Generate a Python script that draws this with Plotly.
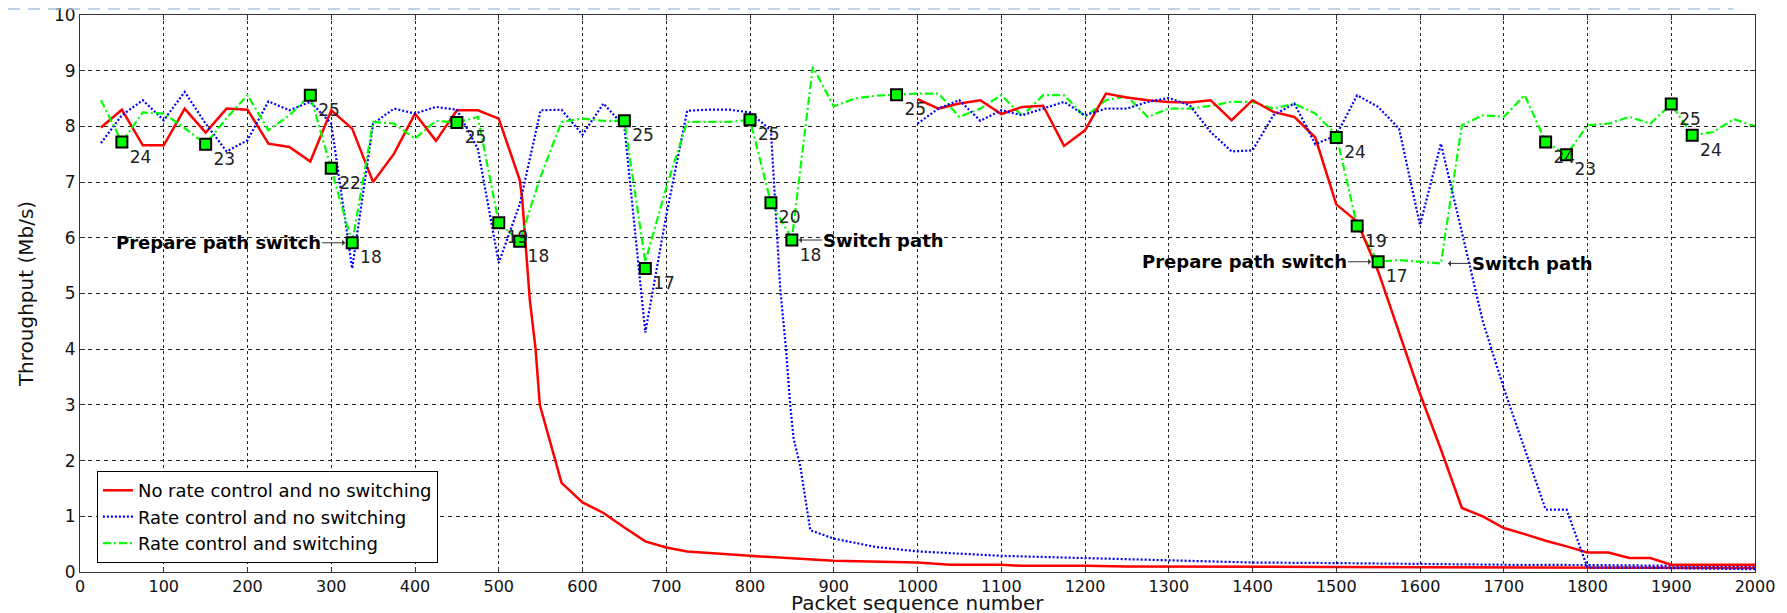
import plotly.graph_objects as go

# ---------------- data ----------------
# No rate control and no switching (first flow and second flow)
red1_x = [25, 50, 75, 100, 125, 150, 175, 200, 225, 250, 275, 300, 325, 350, 375, 400, 425, 450, 475, 500,
          525, 528, 537, 544, 549, 575, 600, 625, 650, 675, 700, 725, 800, 900, 1000, 1039, 1100, 1125, 1200,
          1250, 1500, 1800, 2000]
red1_y = [7.98, 8.3, 7.66, 7.66, 8.32, 7.89, 8.32, 8.3, 7.69, 7.63, 7.37, 8.29, 7.96, 7.0, 7.51, 8.23, 7.74, 8.29, 8.29, 8.14,
          7.04, 6.7, 4.9, 4.0, 3.0, 1.6, 1.25, 1.06, 0.8, 0.55, 0.44, 0.37, 0.29, 0.2, 0.17, 0.13, 0.13, 0.11, 0.11,
          0.1, 0.09, 0.08, 0.07]
red2_x = [1000, 1025, 1050, 1075, 1100, 1125, 1150, 1175, 1200, 1225, 1250, 1275, 1300, 1325, 1350, 1375, 1400, 1425,
          1450, 1475, 1500, 1525, 1550, 1575, 1600, 1625, 1650, 1675, 1700, 1725, 1750, 1775, 1800, 1825, 1850, 1875,
          1900, 2000]
red2_y = [8.49, 8.32, 8.41, 8.47, 8.22, 8.35, 8.37, 7.65, 7.93, 8.59, 8.52, 8.47, 8.44, 8.43, 8.47, 8.11, 8.47, 8.26,
          8.17, 7.8, 6.6, 6.29, 5.4, 4.3, 3.2, 2.2, 1.15, 1.0, 0.79, 0.68, 0.56, 0.46, 0.35, 0.35, 0.25, 0.25,
          0.13, 0.13]

# Rate control and no switching (first flow and second flow)
blue1_x = [25, 50, 75, 100, 125, 150, 175, 200, 225, 250, 275, 300, 325, 350, 375, 400, 425, 450, 475, 500,
           525, 550, 575, 600, 625, 650, 675, 700, 725, 750, 775, 800, 825, 836, 843, 848, 852, 860, 872, 900,
           950, 1000, 1050, 1100, 1150, 1200, 1300, 1375, 1400, 1500, 1600, 1700, 1800, 1900, 2000]
blue1_y = [7.7, 8.2, 8.47, 8.11, 8.62, 8.05, 7.55, 7.75, 8.45, 8.29, 8.44, 8.05, 5.45, 8.05, 8.32, 8.23, 8.35, 8.3, 7.6, 5.55,
           6.6, 8.29, 8.3, 7.85, 8.41, 8.0, 4.3, 6.4, 8.28, 8.3, 8.3, 8.25, 7.93, 5.1, 4.0, 3.0, 2.4, 1.9, 0.75, 0.6,
           0.45, 0.37, 0.33, 0.29, 0.27, 0.25, 0.21, 0.19, 0.17, 0.16, 0.14, 0.13, 0.125, 0.11, 0.1]
blue2_x = [1000, 1025, 1050, 1075, 1100, 1125, 1150, 1175, 1200, 1225, 1250, 1275, 1300, 1325, 1350, 1375, 1400, 1425,
           1450, 1475, 1500, 1525, 1550, 1575, 1600, 1625, 1650, 1675, 1700, 1725, 1750, 1775, 1800, 1850, 1900, 2000]
blue2_y = [8.05, 8.32, 8.47, 8.1, 8.29, 8.2, 8.32, 8.44, 8.2, 8.32, 8.32, 8.44, 8.51, 8.38, 7.9, 7.55, 7.57, 8.2,
           8.41, 7.68, 7.84, 8.56, 8.35, 7.96, 6.23, 7.69, 6.1, 4.5, 3.3, 2.2, 1.12, 1.12, 0.08, 0.08, 0.07, 0.05]

# Rate control and switching
green_x = list(range(25, 2001, 25))
green_y = [8.47, 7.72, 8.25, 8.23, 7.97, 7.68, 8.15, 8.56, 7.93, 8.2,
           8.56, 7.25, 5.91, 8.08, 8.05, 7.78, 8.1, 8.07, 8.17, 6.27,
           5.94, 7.1, 8.08, 8.14, 8.1, 8.1, 5.57, 6.9, 8.08, 8.08,
           8.08, 8.12, 6.63, 5.98, 9.07, 8.36, 8.5, 8.55, 8.57, 8.59,
           8.59, 8.17, 8.32, 8.56, 8.19, 8.56, 8.56, 8.17, 8.47, 8.54,
           8.17, 8.32, 8.32, 8.37, 8.44, 8.44, 8.32, 8.41, 8.23, 7.85,
           6.21, 5.57, 5.6, 5.57, 5.54, 8.02, 8.2, 8.17, 8.56, 7.72,
           7.49, 8.02, 8.05, 8.17, 8.05, 8.4, 7.84, 7.9, 8.13, 8.0]

# labelled rate markers on the switching curve
mark_x = [50, 150, 275, 300, 325, 450, 500, 525, 650, 675, 800, 825, 850, 975, 1500, 1525, 1550, 1750, 1775, 1900, 1925]
mark_y = [7.72, 7.68, 8.56, 7.25, 5.91, 8.07, 6.27, 5.94, 8.1, 5.45, 8.12, 6.63, 5.96, 8.57, 7.8, 6.21, 5.57, 7.72, 7.49, 8.4, 7.84]
mark_lbl = ["24", "23", "25", "22", "18", "25", "19", "18", "25", "17", "25", "20", "18", "25", "24", "19", "17", "24", "23", "25", "24"]

# event annotations
events_x = [325, 850, 1550, 1625]
events_y = [5.91, 5.96, 5.57, 5.54]
events_txt = ["Prepare path switch", "Switch path", "Prepare path switch", "Switch path"]

x_ticks = list(range(0, 2001, 100))
y_ticks = list(range(0, 11, 1))

# ---------------- figure ----------------
FONT = "DejaVu Sans"
RED, BLUE, GREEN = "#ff0000", "#0000ff", "#00ff00"

fig = go.Figure()
fig.add_trace(go.Scatter(x=red1_x, y=red1_y, mode="lines", name="No rate control and no switching",
                         line=dict(color=RED, width=2.5), legendgroup="r"))
fig.add_trace(go.Scatter(x=blue1_x, y=blue1_y, mode="lines", name="Rate control and no switching",
                         line=dict(color=BLUE, width=2.2, dash="2px,2px"), legendgroup="b"))
fig.add_trace(go.Scatter(x=green_x, y=green_y, mode="lines", name="Rate control and switching",
                         line=dict(color=GREEN, width=2.2, dash="8px,3px,2px,3px"), legendgroup="g"))
fig.add_trace(go.Scatter(x=red2_x, y=red2_y, mode="lines", showlegend=False,
                         line=dict(color=RED, width=2.5), legendgroup="r"))
fig.add_trace(go.Scatter(x=blue2_x, y=blue2_y, mode="lines", showlegend=False,
                         line=dict(color=BLUE, width=2.2, dash="2px,2px"), legendgroup="b"))
fig.add_trace(go.Scatter(x=mark_x, y=mark_y, mode="markers+text", showlegend=False,
                         text=mark_lbl, textposition="bottom right",
                         textfont=dict(family=FONT, size=17, color="#222"),
                         marker=dict(symbol="square", size=11, color=GREEN, line=dict(color="black", width=2))))

for ex, ey, et in zip(events_x, events_y, events_txt):
    left = et.startswith("Prepare")
    fig.add_annotation(x=ex, y=ey, text="<b>%s</b>" % et, showarrow=True, ax=-134 if left else 92, ay=0,
                       arrowhead=1, arrowsize=1, arrowwidth=1, arrowcolor="#333", standoff=7,
                       font=dict(family=FONT, size=18, color="black"))

# x-axis title placed as an annotation inside the bottom margin
fig.add_annotation(xref="paper", yref="paper", x=0.5, y=-0.056, yanchor="middle", showarrow=False,
                   text="Packet sequence number", font=dict(family=FONT, size=20, color="#111"))

# decorative dashed page border line at the very top
fig.add_shape(type="line", xref="paper", yref="paper", x0=-0.043, x1=0.987, y0=1.0108, y1=1.0108,
              line=dict(color="#a8c3dc", width=1.5, dash="12px,8px"))

axis_common = dict(showline=True, linecolor="#333", linewidth=1, mirror="ticks", ticks="inside",
                   ticklen=5, tickcolor="#333", showgrid=True, gridcolor="#222", gridwidth=1,
                   zeroline=False, automargin=False, ticklabeloverflow="allow")

fig.update_xaxes(range=[0, 2000], tickvals=x_ticks, griddash="dot",
                 tickfont=dict(family=FONT, size=16, color="#111"), **axis_common)
fig.update_yaxes(range=[0, 10], tickvals=y_ticks, griddash="4px,4px",
                 tickfont=dict(family=FONT, size=17, color="#111"),
                 title=dict(text="Throughput (Mb/s)", font=dict(family=FONT, size=20, color="#111"), standoff=14),
                 **axis_common)

# the page body adds an 8px margin, so the figure is sized to fit inside it
fig.update_layout(
    width=1771, height=605,
    margin=dict(l=72, r=24, t=7, b=41),
    paper_bgcolor="white", plot_bgcolor="white",
    font=dict(family=FONT),
    legend=dict(x=0.0101, y=0.016, xanchor="left", yanchor="bottom", bgcolor="white",
                bordercolor="black", borderwidth=1, font=dict(family=FONT, size=18, color="black"),
                tracegroupgap=0),
)

fig.write_html("out.html")
